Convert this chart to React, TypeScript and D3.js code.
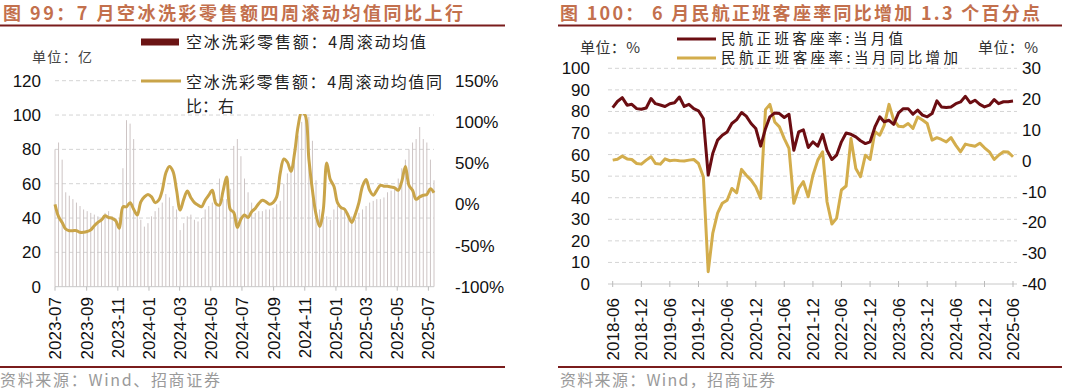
import React from 'react';
import * as d3 from 'd3';

// ---------- Chart 99 data: 空冰洗彩零售额 (weekly) ----------
const applianceStart = '2023-07-01';
const applianceSales = [
  80, 84, 74, 55, 53, 51, 49, 47, 45, 44,
  43, 42, 41, 40, 43, 44, 41, 40, 40, 69,
  97, 95, 86, 41, 39, 35, 37, 41, 44, 46,
  49, 54, 52, 47, 45, 33, 37, 41, 42, 39,
  38, 40, 45, 47, 49, 51, 63, 51, 51, 57,
  82, 86, 76, 63, 55, 49, 43, 44, 44, 45,
  45, 46, 48, 50, 60, 66, 70, 78, 88, 96,
  100, 99, 85, 62, 45, 43, 41, 39, 45, 47,
  47, 45, 43, 41, 39, 43, 45, 47, 49, 50,
  51, 51, 52, 55, 56, 57, 63, 69, 74, 80,
  84, 86, 93, 86, 84, 74, 62,
];
const applianceYoY = [
  0, -15, -22, -30, -32, -32, -32, -34, -34, -33,
  -31, -26, -22, -19, -14, -16, -17, -20, -29, -3,
  -3, 2, -6, -13, 3, 9, 12, 9, 2, 5,
  17, 38, 46, 40, 17, -7, 6, 16, 8, 2,
  -1, -3, 5, 11, 17, 1, -1, 16, 33, -6,
  -10, -28, -18, -13, -16, -9, -5, 1, 5, 3,
  0, 2, 9, 38, 55, 51, 40, 62, 95, 112,
  108, 55, 17, -12, -27, -8, 50, 30, 22, 2,
  -4, -6, -14, -22, -12, 2, 22, 30, 17, 11,
  17, 23, 22, 22, 21, 20, 17, 28, 46, 23,
  17, 6, 9, 11, 12, 19, 14,
];
const applianceTicks = ['2023-07', '2023-09', '2023-11', '2024-01', '2024-03', '2024-05', '2024-07', '2024-09', '2024-11', '2025-01', '2025-03', '2025-05', '2025-07'];
const applianceLeftTicks = [0, 20, 40, 60, 80, 100, 120];
const applianceRightTicks = [-100, -50, 0, 50, 100, 150];

// ---------- Chart 100 data: 民航正班客座率 (monthly) ----------
const airStart = '2018-06';
const loadFactor = [
  81.8, 84.6, 86.4, 82.9, 83.3, 81.3, 81.0, 81.6, 86.0, 83.6,
  83.0, 82.3, 83.6, 84.0, 86.7, 82.3, 83.3, 81.3, 80.3, 76.7,
  50.5, 60.5, 66.7, 69.0, 70.5, 74.4, 76.2, 79.5, 77.8, 74.4,
  72.1, 63.9, 72.0, 77.5, 79.3, 79.0, 77.2, 78.7, 62.0, 70.5,
  71.5, 63.3, 65.9, 63.9, 69.4, 62.0, 57.7, 59.7, 65.9, 70.0,
  69.4, 68.2, 66.4, 65.1, 65.9, 72.8, 77.5, 75.2, 75.9, 74.0,
  79.3, 81.3, 81.3, 78.7, 80.6, 78.3, 77.5, 79.0, 84.9, 82.1,
  81.8, 82.1, 83.6, 84.4, 87.0, 84.0, 85.2, 83.3, 82.1, 82.9,
  85.5, 83.6, 84.5, 84.5, 84.8,
];
const loadFactorYoY = [
  0.2, 0.5, 1.5, 0.6, 0.4, -0.9, -1.1, 0.2, 1.3, -0.9,
  -1.1, 0.6, 0.0, 0.2, 0.0, -0.1, 0.2, 0.4, -0.9, -5.2,
  -36, -23.6, -17, -13.8, -12.8, -9, -10.4, -2.8, -4.7, -6.3,
  -8.5, -12.2, 16.6, 18.3, 12.6, 11, 7.2, 4, -13.8, -9,
  -6.8, -11.7, -4.7, 0.2, 2.9, -13.3, -20.5, -18.7, -9.5, -8.2,
  7.2, -2.5, -5.2, 1.8, 0.4, 9.4, 8.3, 11.5, 18.3, 13.2,
  11.2, 11, 12.1, 10.5, 14.2, 13.2, 12.1, 6.7, 7.5, 6.9,
  6.1, 7.5, 5, 2.9, 5.4, 5, 4.7, 5.7, 4.2, 2.9,
  0.4, 1.8, 2.9, 2.8, 1.3,
];
const airTicks = ['2018-06', '2018-12', '2019-06', '2019-12', '2020-06', '2020-12', '2021-06', '2021-12', '2022-06', '2022-12', '2023-06', '2023-12', '2024-06', '2024-12', '2025-06'];
const airLeftTicks = [0, 10, 20, 30, 40, 50, 60, 70, 80, 90, 100];
const airRightTicks = [-40, -30, -20, -10, 0, 10, 20, 30];

const NUM = "'Liberation Sans', Arial, 'Noto Sans CJK SC', sans-serif";
const CJK = "'Noto Sans CJK SC', 'Liberation Sans', sans-serif";
const TITLE_COLOR = '#c3704d';
const RULE_COLOR = '#7a1c1c';
const MAROON = '#6b0d12';
const GOLD = '#c9a449';
const GOLD2 = '#d3ad4c';
const GRID = '#d4d4d4';

export default function App() {
  const parseMonth = d3.timeParse('%Y-%m');
  const parseDay = d3.timeParse('%Y-%m-%d');

  // ---- left chart scales ----
  const wStart = parseDay(applianceStart) as Date;
  const weeks = applianceSales.map((_, i) => d3.timeDay.offset(wStart, 7 * i));
  const xA = d3.scaleTime().domain([wStart, weeks[weeks.length - 1]]).range([55, 434]);
  const yA = d3.scaleLinear().domain([0, 120]).range([286.7, 80.7]);
  const yAR = d3.scaleLinear().domain([-100, 150]).range([286.7, 80.7]);
  const aLine = d3.line<number>()
    .x((_, i) => xA(weeks[i]))
    .y((d) => yAR(d))
    .curve(d3.curveCatmullRom.alpha(0.5));

  // ---- right chart scales ----
  const mStart = parseMonth(airStart) as Date;
  const months = loadFactor.map((_, i) => d3.timeMonth.offset(mStart, i));
  const xB = d3.scaleTime().domain([mStart, months[months.length - 1]]).range([612.7, 1013]);
  const yB = d3.scaleLinear().domain([0, 100]).range([284, 68.3]);
  const yBR = d3.scaleLinear().domain([-40, 30]).range([284, 68.3]);
  const bLine = d3.line<number>().x((_, i) => xB(months[i])).y((d) => yB(d));
  const bLine2 = d3.line<number>().x((_, i) => xB(months[i])).y((d) => yBR(d));

  return (
    <svg width={1070} height={390} style={{ position: 'absolute', left: 0, top: 0, background: '#fff' }}>
      {/* ================= LEFT CHART ================= */}
      <text x={3} y={20} fontFamily={CJK} fontWeight={700} fontSize={18} fill={TITLE_COLOR}
        textLength={460} lengthAdjust="spacing">图 99：7 月空冰洗彩零售额四周滚动均值同比上行</text>
      <line x1={0} x2={505} y1={25.5} y2={25.5} stroke={RULE_COLOR} strokeWidth={2} />

      {/* grid */}
      {applianceLeftTicks.filter((t) => t > 0).map((t) => (
        <line key={'ga' + t} x1={55} x2={434} y1={yA(t)} y2={yA(t)} stroke={GRID} strokeDasharray="4 3" />
      ))}
      {/* bars */}
      {applianceSales.map((v, i) => (
        <line key={'b' + i} x1={xA(weeks[i])} x2={xA(weeks[i])} y1={yA(0)} y2={yA(v)} stroke="#cdc4c4" strokeWidth={1} />
      ))}
      <line x1={55} x2={434} y1={yA(0)} y2={yA(0)} stroke="#c8c8c8" />
      {applianceTicks.map((t) => {
        const x = xA(parseMonth(t) as Date);
        return (
          <g key={'ta' + t}>
            <line x1={x} x2={x} y1={yA(0)} y2={yA(0) + 4} stroke="#bbb" />
            <text transform={`translate(${x + 6},297) rotate(-90)`} textAnchor="end" fontFamily={NUM} fontSize={17} fill="#111">{t}</text>
          </g>
        );
      })}
      {applianceLeftTicks.map((t) => (
        <text key={'la' + t} x={41} y={yA(t) + 6} textAnchor="end" fontFamily={NUM} fontSize={17} fill="#111">{t}</text>
      ))}
      {applianceRightTicks.map((t) => (
        <text key={'ra' + t} x={455} y={yAR(t) + 6} textAnchor="start" fontFamily={NUM} fontSize={17} fill="#111">{t + '%'}</text>
      ))}
      <path d={aLine(applianceYoY) || ''} fill="none" stroke={GOLD} strokeWidth={3} strokeLinejoin="round" />

      {/* legend */}
      <rect x={141} y={38.5} width={38} height={7} fill="#6b1414" />
      <text x={186} y={48} fontFamily={CJK} fontSize={16} fill="#222" textLength={240} lengthAdjust="spacing">空冰洗彩零售额：4周滚动均值</text>
      <text x={32} y={62} fontFamily={CJK} fontSize={14} fill="#444" textLength={60} lengthAdjust="spacing">单位：亿</text>
      <rect x={136} y={70} width={310} height={44} fill="#fff" />
      <line x1={141} x2={181} y1={81} y2={81} stroke={GOLD} strokeWidth={3} />
      <text x={186} y={88} fontFamily={CJK} fontSize={16} fill="#222" textLength={256} lengthAdjust="spacing">空冰洗彩零售额：4周滚动均值同</text>
      <text x={186} y={112} fontFamily={CJK} fontSize={16} fill="#222">比：右</text>

      <line x1={0} x2={505} y1={367} y2={367} stroke={RULE_COLOR} strokeWidth={2} />
      <text x={0} y={386} fontFamily={CJK} fontSize={16} fill="#9a9a9a" textLength={220} lengthAdjust="spacing">资料来源：Wind、招商证券</text>

      {/* ================= RIGHT CHART ================= */}
      <text x={560} y={20} fontFamily={CJK} fontWeight={700} fontSize={18} fill={TITLE_COLOR}
        textLength={480} lengthAdjust="spacing">图 100：  6 月民航正班客座率同比增加 1.3 个百分点</text>
      <line x1={558} x2={1062} y1={25.5} y2={25.5} stroke={RULE_COLOR} strokeWidth={2} />

      {airLeftTicks.filter((t) => t > 0).map((t) => (
        <line key={'gb' + t} x1={608} x2={1017} y1={yB(t)} y2={yB(t)} stroke={GRID} strokeDasharray="4 3" />
      ))}
      <line x1={608} x2={1017} y1={yB(0)} y2={yB(0)} stroke="#c8c8c8" />
      {airTicks.map((t) => {
        const x = xB(parseMonth(t) as Date);
        return (
          <g key={'tb' + t}>
            <line x1={x} x2={x} y1={yB(0) - 3} y2={yB(0) + 3} stroke="#bbb" />
            <text transform={`translate(${x + 6},298) rotate(-90)`} textAnchor="end" fontFamily={NUM} fontSize={17} fill="#111">{t}</text>
          </g>
        );
      })}
      {airLeftTicks.map((t) => (
        <text key={'lb' + t} x={590} y={yB(t) + 6} textAnchor="end" fontFamily={NUM} fontSize={17} fill="#111">{t}</text>
      ))}
      {airRightTicks.map((t) => (
        <text key={'rb' + t} x={1022} y={yBR(t) + 6} textAnchor="start" fontFamily={NUM} fontSize={17} fill="#111">{t}</text>
      ))}
      <path d={bLine2(loadFactorYoY) || ''} fill="none" stroke={GOLD2} strokeWidth={3} strokeLinejoin="round" />
      <path d={bLine(loadFactor) || ''} fill="none" stroke={MAROON} strokeWidth={3} strokeLinejoin="round" />

      {/* legend */}
      <line x1={677} x2={716} y1={39} y2={39} stroke={MAROON} strokeWidth={3} />
      <text x={721} y={44} fontFamily={CJK} fontSize={14.5} fill="#222" textLength={182} lengthAdjust="spacing">民航正班客座率:当月值</text>
      <line x1={677} x2={716} y1={58} y2={58} stroke={GOLD2} strokeWidth={3} />
      <text x={721} y={63} fontFamily={CJK} fontSize={14.5} fill="#222" textLength={237} lengthAdjust="spacing">民航正班客座率:当月同比增加</text>
      <text x={580} y={53} fontFamily={CJK} fontSize={15} fill="#333" textLength={60} lengthAdjust="spacing">单位：%</text>
      <text x={978} y={53} fontFamily={CJK} fontSize={15} fill="#333" textLength={60} lengthAdjust="spacing">单位：%</text>

      <line x1={558} x2={1062} y1={367} y2={367} stroke={RULE_COLOR} strokeWidth={2} />
      <text x={560} y={386} fontFamily={CJK} fontSize={16} fill="#9a9a9a" textLength={215} lengthAdjust="spacing">资料来源：Wind，招商证券</text>
    </svg>
  );
}
